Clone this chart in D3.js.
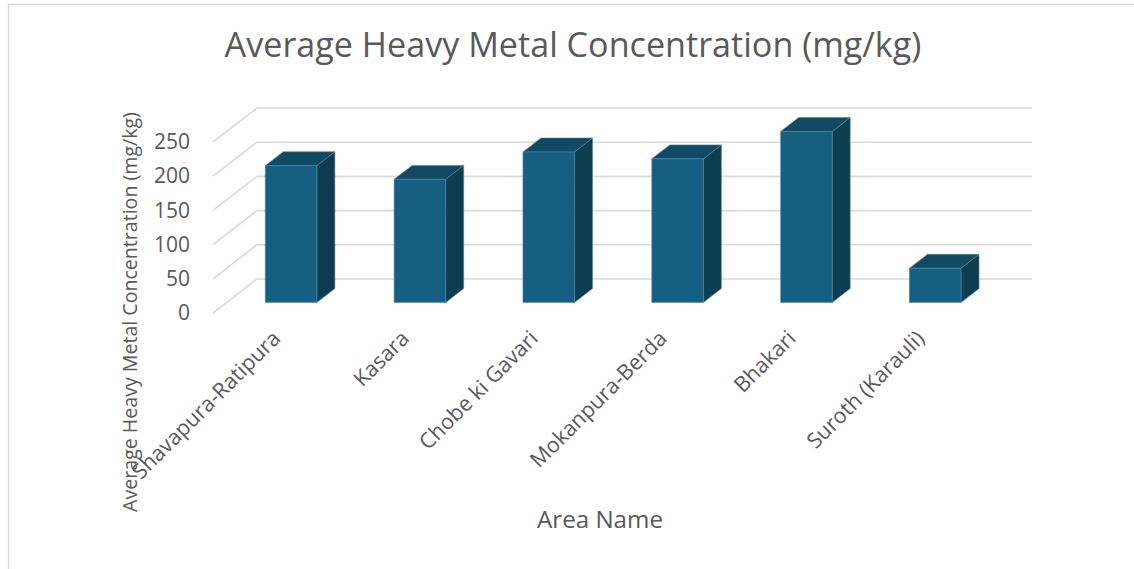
<!DOCTYPE html>
<html>
<head>
<meta charset="utf-8">
<script src="https://cdn.jsdelivr.net/npm/d3@7"></script>
<style>
  body { margin: 0; background: #fff; }
  text { font-family: "Open Sans", "Noto Sans", sans-serif; fill: #595959; }
</style>
</head>
<body>
<div id="chart"></div>
<script>
// data
const areas = ["Shavapura-Ratipura", "Kasara", "Chobe ki Gavari", "Mokanpura-Berda", "Bhakari", "Suroth (Karauli)"];
const concentration = [200, 180, 220, 210, 250, 50];
const yTicks = [0, 50, 100, 150, 200, 250];

const W = 1134, H = 569;
const depthX = 44, depthY = -34;       // front plane -> back wall shift
const barFront = 0.31, barBack = 0.72; // where the bar sits in the depth

let svg = d3.select("#chart").append("svg")
    .attr("width", W)
    .attr("height", H);

// chart border (only top/left show in the shot)
svg.append("rect")
    .attr("x", 8.5).attr("y", 4.5)
    .attr("width", W + 20).attr("height", H + 20)
    .attr("fill", "none")
    .attr("stroke", "#d9d9d9")
    .attr("stroke-width", 1.5);

let x = d3.scaleBand()
    .domain(areas)
    .range([213, 986])
    .paddingInner(0.6)
    .paddingOuter(0.3);

let y = d3.scaleLinear()
    .domain([0, 250])
    .range([313, 142]);

// gridlines: side wall diagonal + back wall horizontal
let grid = svg.append("g").attr("class", "grid");
grid.selectAll(".side")
    .data(yTicks)
    .enter().append("line")
    .attr("x1", 213).attr("y1", d => y(d))
    .attr("x2", 213 + depthX).attr("y2", d => y(d) + depthY);
grid.selectAll(".back")
    .data(yTicks)
    .enter().append("line")
    .attr("x1", 213 + depthX).attr("y1", d => y(d) + depthY)
    .attr("x2", 1032).attr("y2", d => y(d) + depthY);
grid.selectAll("line")
    .attr("stroke", "#d9d9d9")
    .attr("stroke-width", 1.6);

// 3d bars
let fx = depthX * barFront, fy = depthY * barFront;
let bx = depthX * (barBack - barFront), by = depthY * (barBack - barFront);

let bars = svg.selectAll(".bar")
    .data(areas.map((a, i) => ({ area: a, value: concentration[i] })))
    .enter().append("g")
    .attr("class", "bar")
    .attr("transform", "translate(" + fx + "," + fy + ")");

function pts(arr) { return arr.map(p => p.join(",")).join(" "); }

bars.append("polygon") // right side
    .attr("points", d => {
        let x1 = x(d.area) + x.bandwidth(), y0 = y(0), y1 = y(d.value);
        return pts([[x1, y1], [x1 + bx, y1 + by], [x1 + bx, y0 + by], [x1, y0]]);
    })
    .attr("fill", "#0c3d51");
bars.append("polygon") // top
    .attr("points", d => {
        let x0 = x(d.area), x1 = x0 + x.bandwidth(), y1 = y(d.value);
        return pts([[x0, y1], [x0 + bx, y1 + by], [x1 + bx, y1 + by], [x1, y1]]);
    })
    .attr("fill", "#104a64");
bars.append("rect") // front
    .attr("x", d => x(d.area))
    .attr("y", d => y(d.value))
    .attr("width", x.bandwidth())
    .attr("height", d => y(0) - y(d.value))
    .attr("fill", "#156082");
bars.selectAll("polygon, rect")
    .attr("stroke", "#4d87a1")
    .attr("stroke-width", 0.6)
    .attr("stroke-linejoin", "round");

// y axis labels
let yAxis = svg.append("g")
    .attr("transform", "translate(190,0)")
    .call(d3.axisLeft(y).tickValues(yTicks).tickSize(0).tickPadding(0));
yAxis.select(".domain").remove();
yAxis.selectAll("text")
    .style("font-family", "'Open Sans', sans-serif")
    .style("font-size", "21px")
    .attr("fill", "#595959");

// x axis labels, rotated
let xAxis = svg.append("g")
    .attr("transform", "translate(0,344)")
    .call(d3.axisBottom(x).tickSize(0).tickPadding(0));
xAxis.select(".domain").remove();
xAxis.selectAll("text")
    .style("font-family", "'Open Sans', sans-serif")
    .style("font-size", "21.5px")
    .attr("fill", "#595959")
    .attr("text-anchor", "end")
    .attr("x", 6).attr("y", 0).attr("dy", 0)
    .attr("transform", "rotate(-45)");

function fit(sel, target) {
    let len = sel.node().getComputedTextLength();
    let fs = parseFloat(sel.style("font-size"));
    sel.style("font-size", (fs * target / len) + "px");
}

let title = svg.append("text")
    .attr("x", 573).attr("y", 57)
    .attr("text-anchor", "middle")
    .style("font-size", "28px")
    .text("Average Heavy Metal Concentration (mg/kg)");
fit(title, 697);

let yTitle = svg.append("text")
    .attr("transform", "translate(137,312) rotate(-90)")
    .attr("text-anchor", "middle")
    .style("font-size", "16px")
    .text("Average Heavy Metal Concentration (mg/kg)");
fit(yTitle, 400);

let xTitle = svg.append("text")
    .attr("x", 600).attr("y", 528)
    .attr("text-anchor", "middle")
    .style("font-size", "19px")
    .text("Area Name");
fit(xTitle, 126);
</script>
</body>
</html>
